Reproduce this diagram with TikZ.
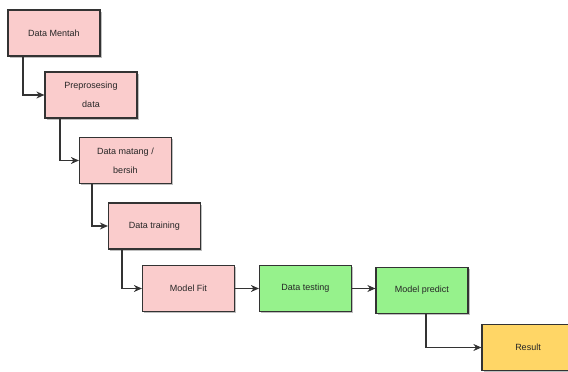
\documentclass[tikz,border=0pt]{standalone}
\usepackage{fontspec}
\setmainfont{Liberation Sans}
\usetikzlibrary{arrows.meta,shadows}

\definecolor{rawpink}{RGB}{250,204,204}
\definecolor{testgreen}{RGB}{150,242,140}
\definecolor{resultgold}{RGB}{255,214,102}
\definecolor{boxline}{RGB}{51,51,51}

\tikzset{
	stagebox/.style={rectangle, draw=boxline, line width=1.2pt, minimum width=92pt, minimum height=46pt,
		inner sep=1pt, align=center, font=\fontsize{9}{19}\selectfont, text=black!85,
		drop shadow={shadow xshift=1.5pt, shadow yshift=-1.5pt, fill=black!25, opacity=1}},
	flow/.style={-{Stealth[length=8pt,width=7pt]}, line width=1.1pt, draw=boxline}
}

\begin{document}
\begin{tikzpicture}[x=1pt,y=-1pt]

	\useasboundingbox (0,0) rectangle (568,372);

	\node[stagebox, fill=rawpink] (mentah) at (54,33) {Data Mentah};
	\node[stagebox, fill=rawpink] (prepro) at (91,95) {Preprosesing\\data};
	\node[stagebox, fill=rawpink] (matang) at (125.5,160.5) {Data matang /\\bersih};
	\node[stagebox, fill=rawpink] (training) at (154.5,226) {Data training};
	\node[stagebox, fill=rawpink] (fit) at (188.5,288.5) {Model Fit};
	\node[stagebox, fill=testgreen] (testing) at (305.5,288.5) {Data testing};
	\node[stagebox, fill=testgreen] (predict) at (422,290.5) {Model predict};
	\node[stagebox, fill=resultgold] (result) at (528,347.5) {Result};

	\draw[flow] (mentah.south -| 23,0) |- (prepro.west);
	\draw[flow] (prepro.south -| 60,0) |- (matang.west);
	\draw[flow] (matang.south -| 92,0) |- (training.west);
	\draw[flow] (training.south -| 122,0) |- (fit.west);
	\draw[flow] (fit) -- (testing);
	\draw[flow] (testing.east) -- (predict.west |- testing.east);
	\draw[flow] (predict.south -| 426,0) |- (result.west);

\end{tikzpicture}
\end{document}
